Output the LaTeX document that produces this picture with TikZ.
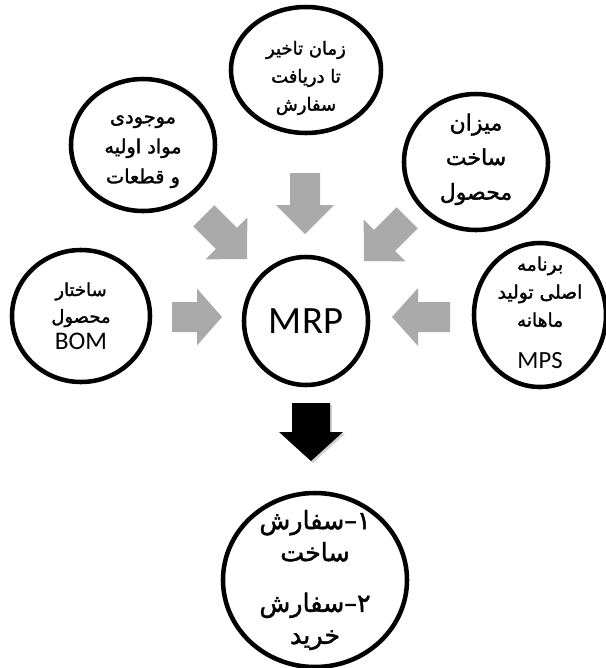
\documentclass[tikz,border=0pt]{standalone}
\usepackage{fontspec}
\newfontfamily\fa[Script=Arabic,FakeBold=1.6]{DejaVu Sans}
\newfontfamily\lat{Carlito}
\TeXXeTstate=1
\newcommand{\rl}[1]{\beginR #1\endR}
\usetikzlibrary{shapes.geometric,shadows}
\definecolor{arrowgray}{RGB}{170,170,170}

\tikzset{
  ring/.style={ellipse,draw,line width=3.4pt,inner sep=0pt},
  ringsize/.style 2 args={minimum width=#1*0.75pt,minimum height=#2*0.75pt},
  label text/.style={align=center,inner sep=0pt},
}

\begin{document}
\begin{tikzpicture}[x=0.75pt,y=-0.75pt]
\useasboundingbox (0,0) rectangle (606,668);

% circles
\node[ring,ringsize={150}{126}] (lead) at (306,70) {};
\node[ring,ringsize={144}{132}] (stock) at (143,145) {};
\node[ring,ringsize={144}{136}] (qty) at (476,162) {};
\node[ring,ringsize={138}{132}] (bom) at (81,316) {};
\node[ring,ringsize={132}{144}] (mps) at (540,315) {};
\node[ring,ringsize={124}{128}] (mrp) at (306,321) {};
\node[ring,ringsize={184}{174}] (orders) at (315,580) {};

% texts
\node[label text,font=\fa\fontsize{13.5}{21}\selectfont] (leadText) at ([yshift=-6pt]lead)
  {\rl{زمان تاخیر}\\\rl{تا دریافت}\\\rl{سفارش}};
\node[label text,font=\fa\fontsize{14.5}{22.5}\selectfont] (stockText) at ([yshift=-5pt]stock)
  {\rl{موجودی}\\\rl{مواد اولیه}\\\rl{و قطعات}};
\node[label text,font=\fa\fontsize{16.5}{26}\selectfont] (qtyText) at ([yshift=2pt]qty)
  {\rl{میزان}\\\rl{ساخت}\\\rl{محصول}};
\node[label text,font=\fa\fontsize{13.5}{20}\selectfont] (bomText) at (bom)
  {\rl{ساختار}\\\rl{محصول}\\{\lat\fontsize{19}{20}\selectfont BOM}};
\node[label text,font=\fa\fontsize{14}{21}\selectfont] (mpsText) at ([yshift=2pt]mps)
  {\rl{برنامه}\\\rl{اصلی تولید}\\\rl{ماهانه}\\[10pt]{\lat\fontsize{18.5}{21}\selectfont MPS}};
\node[font=\lat\fontsize{29}{30}\selectfont,inner sep=0pt] (mrpText) at (mrp) {MRP};
\node[label text,font=\fa\fontsize{19}{24}\selectfont] (ordersText) at (orders)
  {\rl{۱\hbox{–}سفارش}\\\rl{ساخت}\\[14pt]\rl{۲\hbox{–}سفارش}\\\rl{خرید}};

% block arrows: tip x, tip y, angle, length, head length, shaft, head
\foreach \tx/\ty/\ang/\len/\hl/\sw/\hw in {305/234/-90/61/29/30/58,
    247/259/-45/61/29/30/59, 364/261/-135/61/29/30/59,
    222/317/0/50/25/30/57, 392/317/180/58/26/30/58}{
  \begin{scope}[shift={(\tx,\ty)},rotate=\ang]
    \fill[arrowgray] (0,0) -- (-\hl,\hw/2) -- (-\hl,\sw/2) -- (-\len,\sw/2)
      -- (-\len,-\sw/2) -- (-\hl,-\sw/2) -- (-\hl,-\hw/2) -- cycle;
  \end{scope}
}

% output arrow
\begin{scope}[shift={(311,461)},rotate=-90]
  \fill[black,drop shadow={shadow xshift=1.5pt,shadow yshift=-1.5pt,opacity=.35}]
    (0,0) -- (-29,32) -- (-29,19) -- (-58,19) -- (-58,-19) -- (-29,-19) -- (-29,-32) -- cycle;
\end{scope}

\end{tikzpicture}
\end{document}
